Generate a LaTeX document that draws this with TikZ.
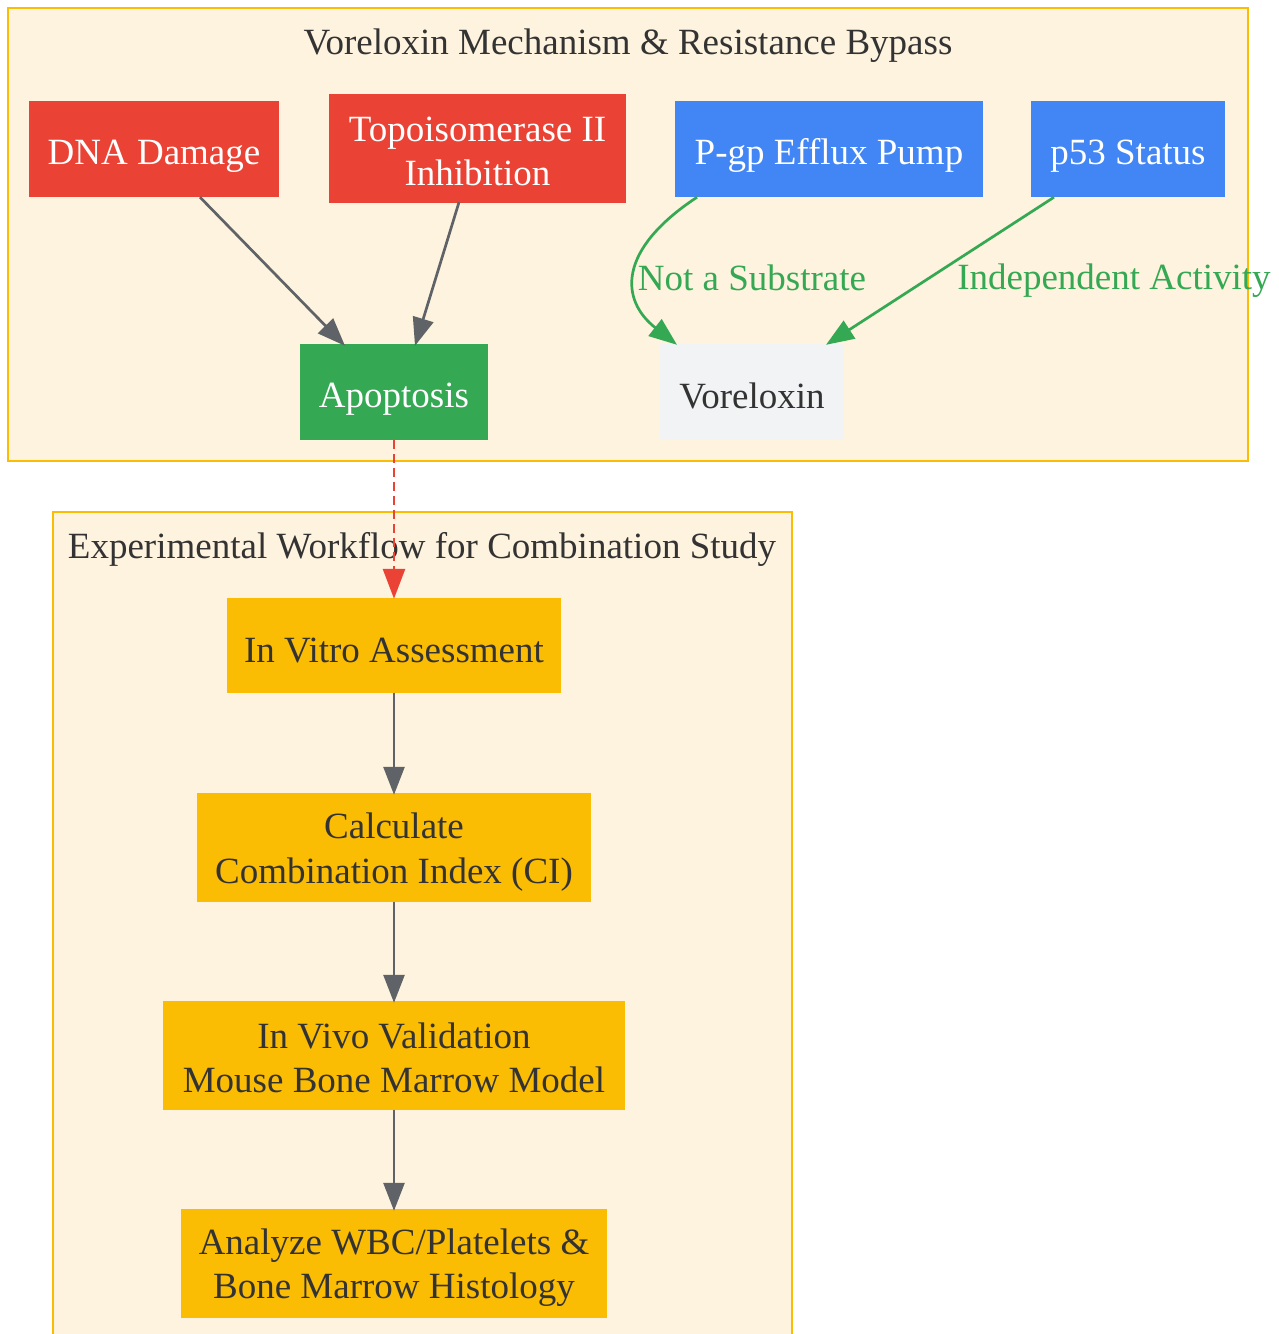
\documentclass[tikz,border=0pt]{standalone}
\usepackage{fontspec}
\setmainfont{Liberation Serif}
\usetikzlibrary{arrows.meta,calc}
\definecolor{cred}{HTML}{EA4335}
\definecolor{cblue}{HTML}{4285F4}
\definecolor{cgreen}{HTML}{34A853}
\definecolor{cyellow}{HTML}{FBBC04}
\definecolor{cgraynode}{HTML}{F1F3F4}
\definecolor{cedge}{HTML}{5F6368}
\definecolor{cclfill}{HTML}{FEF3DE}
\definecolor{ctext}{HTML}{333333}
\newcommand{\mytwolines}[2]{\rule{0pt}{34.5pt}#1\\#2\rule[-5pt]{0pt}{5pt}}
\tikzset{
  txtfix/.style={font=\fontsize{37}{44.4}\selectfont,
    execute at begin node={\rule{0pt}{38pt}},
    execute at end node={\rule[-5pt]{0pt}{5pt}}},
  twobox/.style={rectangle, draw=none, inner sep=0pt, align=center, font=\fontsize{37}{44.4}\selectfont},
  box/.style={twobox, txtfix},
  redbox/.style={box, fill=cred, text=white},
  bluebox/.style={box, fill=cblue, text=white},
  greenbox/.style={box, fill=cgreen, text=white},
  yelbox/.style={box, fill=cyellow, text=ctext},
  graybox/.style={box, fill=cgraynode, text=ctext},
  redtwo/.style={twobox, fill=cred, text=white},
  yeltwo/.style={twobox, fill=cyellow, text=ctext},
  cluster/.style={draw=cyellow, fill=cclfill, line width=2.7pt},
  cltitle/.style={text=ctext, inner sep=0pt, txtfix},
  edge/.style={draw=cedge, line width=2.7pt, -{Triangle[length=28pt,width=21pt]}},
  gedge/.style={draw=cgreen, line width=2.7pt, -{Triangle[length=28pt,width=21pt]}},
  redge/.style={draw=cred, line width=2.8pt, dash pattern=on 9pt off 5pt, -{Triangle[length=30pt,width=22pt]}},
  elabel/.style={text=cgreen, inner sep=0pt, txtfix},
}
\begin{document}
\begin{tikzpicture}[x=1pt,y=-1pt]
\useasboundingbox (0,0) rectangle (1279,1334);
\fill[white] (0,0) rectangle (1279,1334);
% clusters
\draw[cluster] (8,8) rectangle (1248,461);
\node[cltitle] (t1) at (628,39) {Voreloxin Mechanism \& Resistance Bypass};
\draw[cluster] (53,512) rectangle (792,1350);
\node[cltitle] (t2) at (422,543) {Experimental Workflow for Combination Study};
% top nodes
\node[redbox, minimum width=250pt, minimum height=96pt] (dna) at (154,149) {DNA Damage};
\node[redtwo, minimum width=297pt, minimum height=109pt] (topo) at (477.5,148.5) {\mytwolines{Topoisomerase II}{Inhibition}};
\node[bluebox, minimum width=308pt, minimum height=96pt] (pgp) at (829,149) {P-gp Efflux Pump};
\node[bluebox, minimum width=194pt, minimum height=96pt] (p53) at (1128,149) {p53 Status};
\node[greenbox, minimum width=188pt, minimum height=96pt] (apo) at (394,392) {Apoptosis};
\node[graybox, minimum width=184pt, minimum height=96pt] (vor) at (752,392) {Voreloxin};
% workflow nodes
\node[yelbox, minimum width=334pt, minimum height=95pt] (vitro) at (394,645.5) {In Vitro Assessment};
\node[yeltwo, minimum width=394pt, minimum height=109pt] (calc) at (394,847.5) {\mytwolines{Calculate}{Combination Index (CI)}};
\node[yeltwo, minimum width=462pt, minimum height=109pt] (vivo) at (394,1055.5) {\mytwolines{In Vivo Validation}{Mouse Bone Marrow Model}};
\node[yeltwo, minimum width=426pt, minimum height=109pt] (anal) at (394,1263.5) {\mytwolines{Analyze WBC/Platelets \&}{Bone Marrow Histology}};
% edges
\draw[edge] ([xshift=46pt]dna.south) -- ([xshift=-49pt,yshift=-2pt]apo.north);
\draw[edge] ([xshift=-18.5pt,yshift=1pt]topo.south) -- ([xshift=21pt,yshift=-2pt]apo.north);
\draw[gedge] ([xshift=-132pt]pgp.south) .. controls (617,250) and (620,300) .. ([xshift=-75pt,yshift=-1pt]vor.north);
\draw[gedge] ([xshift=-74pt]p53.south) -- ([xshift=74pt,yshift=-1pt]vor.north);
\node[elabel] (l1) at (752,274) {Not a Substrate};
\node[elabel] (l2) at (1114,274) {Independent Activity};
\draw[redge] (apo.south) -- ([yshift=-1pt]vitro.north);
\draw[edge] (vitro.south) -- ([yshift=-2pt]calc.north);
\draw[edge] (calc.south) -- ([yshift=-2pt]vivo.north);
\draw[edge] (vivo.south) -- ([yshift=-2pt]anal.north);
\end{tikzpicture}
\end{document}
